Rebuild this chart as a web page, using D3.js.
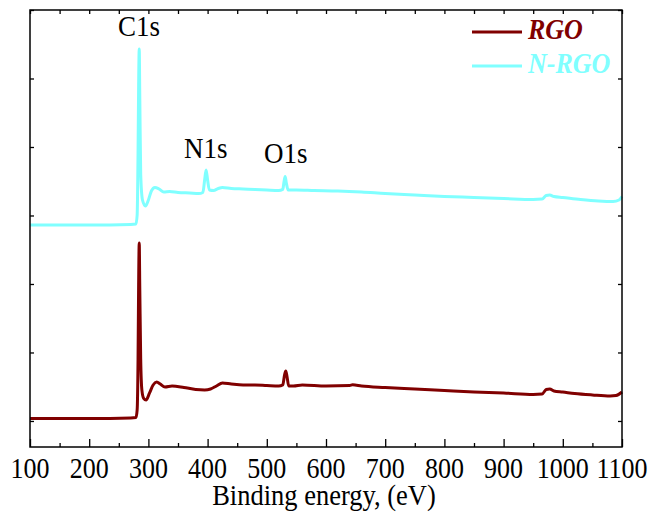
<!DOCTYPE html>
<html>
<head>
<meta charset="utf-8">
<script src="https://cdn.jsdelivr.net/npm/d3@7"></script>
</head>
<body style="margin:0">
<script>
var svgWidth = 654
var svgHeight = 515

// binding energy (eV) and intensity (a.u.)
var rgoEnergy = [100, 200, 270, 279, 281, 282.5, 283.5, 284.5, 285.5, 287, 289, 292, 296, 302, 308, 314, 320, 328, 340, 360, 380, 395, 405, 415, 425, 440, 460, 480, 500, 520, 527, 530, 532, 534, 537, 545, 560, 600, 640, 645, 660, 700, 750, 800, 850, 900, 950, 965, 972, 978, 985, 1000, 1020, 1050, 1080, 1090, 1100]
var rgoIntensity = [0.036, 0.036, 0.044, 0.051, 0.161, 0.9, 2.0, 2.599, 1.9, 0.9, 0.45, 0.33, 0.307, 0.409, 0.526, 0.569, 0.540, 0.496, 0.511, 0.489, 0.460, 0.453, 0.467, 0.511, 0.555, 0.540, 0.526, 0.526, 0.518, 0.511, 0.526, 0.672, 0.730, 0.657, 0.511, 0.511, 0.526, 0.511, 0.518, 0.528, 0.511, 0.489, 0.467, 0.445, 0.423, 0.409, 0.387, 0.394, 0.460, 0.467, 0.438, 0.423, 0.401, 0.380, 0.365, 0.372, 0.423]

var nrgoEnergy = [100, 200, 270, 279, 281, 282.5, 283.5, 284.5, 285.5, 287, 290, 295, 300, 305, 311, 318, 326, 336, 350, 370, 385, 392, 395, 397.5, 400, 403, 410, 418, 425, 440, 460, 480, 500, 520, 527, 529, 531, 533, 536, 550, 580, 620, 660, 700, 750, 800, 850, 900, 950, 965, 972, 978, 985, 1000, 1030, 1060, 1085, 1095, 1100]
var nrgoIntensity = [2.861, 2.861, 2.869, 2.876, 3.007, 3.9, 4.9, 5.431, 4.7, 3.6, 3.226, 3.139, 3.226, 3.358, 3.409, 3.387, 3.343, 3.350, 3.336, 3.328, 3.321, 3.336, 3.518, 3.664, 3.518, 3.372, 3.365, 3.394, 3.409, 3.394, 3.387, 3.380, 3.372, 3.365, 3.380, 3.489, 3.569, 3.474, 3.372, 3.372, 3.365, 3.358, 3.343, 3.321, 3.299, 3.277, 3.263, 3.248, 3.234, 3.241, 3.292, 3.299, 3.277, 3.263, 3.234, 3.212, 3.204, 3.226, 3.277]

var majorTicks = [100, 200, 300, 400, 500, 600, 700, 800, 900, 1000, 1100]
var minorTicks = [150, 250, 350, 450, 550, 650, 750, 850, 950, 1050]
var yTicks = [0, 1, 2, 3, 4, 5, 6]

var peakLabels = [
  { name: 'C1s', energy: 284, level: 5.62 },
  { name: 'N1s', energy: 397, level: 3.84 },
  { name: 'O1s', energy: 532, level: 3.77 }
]
var seriesNames = ['RGO', 'N-RGO']
var seriesColors = ['#800000', '#80ffff']

var fontName = "'Liberation Serif'"
var stretch = ' scale(1,1.1)'

var margin = { left: 30, top: 10, right: 32, bottom: 68 }
var plotW = svgWidth - margin.left - margin.right
var plotH = svgHeight - margin.top - margin.bottom

var svg = d3.select('body').append('svg')
  .attr('width', svgWidth)
  .attr('height', svgHeight)

var g = svg.append('g')
  .attr('transform', 'translate(' + margin.left + ',' + margin.top + ')')

var x = d3.scaleLinear().domain([100, 1100]).range([0, plotW])
var y = d3.scaleLinear().domain([-0.38, 6]).range([plotH, 0])

// spectra
var line = d3.line()
  .x(d => x(d[0]))
  .y(d => y(d[1]))
  .curve(d3.curveMonotoneX)

var series = [
  d3.zip(rgoEnergy, rgoIntensity),
  d3.zip(nrgoEnergy, nrgoIntensity)
]

g.selectAll('path.spec')
  .data(series)
  .enter()
  .append('path')
  .attr('class', 'spec')
  .attr('d', line)
  .attr('fill', 'none')
  .attr('stroke', (d, i) => seriesColors[i])
  .attr('stroke-width', 3)
  .attr('stroke-linejoin', 'round')

// axes, ticks pointing inward
g.append('g')
  .attr('transform', 'translate(0,' + plotH + ')')
  .call(d3.axisBottom(x).tickValues(minorTicks).tickSize(-4).tickFormat(''))

g.append('g')
  .call(d3.axisTop(x).tickValues(majorTicks.concat(minorTicks)).tickSize(-4).tickFormat(''))

g.append('g')
  .call(d3.axisLeft(y).tickValues(yTicks).tickSize(-4).tickFormat(''))

g.append('g')
  .attr('transform', 'translate(' + plotW + ',0)')
  .call(d3.axisRight(y).tickValues(yTicks).tickSize(-4).tickFormat(''))

g.append('g')
  .attr('transform', 'translate(0,' + plotH + ')')
  .call(d3.axisBottom(x).tickValues(majorTicks).tickSize(-8).tickFormat(''))

g.selectAll('.domain').remove()
g.selectAll('.tick line').attr('stroke', '#000').attr('stroke-width', 1.3)

g.append('rect')
  .attr('x', 0).attr('y', 0)
  .attr('width', plotW).attr('height', plotH)
  .attr('fill', 'none')
  .attr('stroke', '#000')
  .attr('stroke-width', 1.5)

// tick labels
g.selectAll('text.tickLabel')
  .data(majorTicks)
  .enter()
  .append('text')
  .attr('class', 'tickLabel')
  .attr('transform', d => 'translate(' + x(d) + ',' + (plotH + 31) + ')' + stretch)
  .attr('text-anchor', 'middle')
  .attr('font-size', 26)
  .style('font-family', fontName)
  .text(d => d)

// axis title
svg.append('text')
  .attr('transform', 'translate(' + (margin.left + 294) + ',505)' + stretch)
  .attr('text-anchor', 'middle')
  .attr('font-size', 26.5)
  .style('font-family', fontName)
  .text('Binding energy, (eV)')

// peak labels
g.selectAll('text.peak')
  .data(peakLabels)
  .enter()
  .append('text')
  .attr('class', 'peak')
  .attr('transform', d => 'translate(' + x(d.energy) + ',' + y(d.level) + ')' + stretch)
  .attr('text-anchor', 'middle')
  .attr('font-size', 27)
  .style('font-family', fontName)
  .text(d => d.name)

// legend
var legendRows = svg.append('g').selectAll('g')
  .data(seriesNames)
  .enter()
  .append('g')
  .attr('transform', (d, i) => 'translate(472,' + (32 + i * 34) + ')')

legendRows.append('line')
  .attr('x1', 0).attr('x2', 50)
  .attr('stroke', (d, i) => seriesColors[i])
  .attr('stroke-width', 3)

legendRows.append('text')
  .attr('transform', 'translate(56,7)' + stretch)
  .attr('font-size', 26)
  .attr('font-weight', 'bold')
  .attr('font-style', 'italic')
  .style('font-family', fontName)
  .attr('fill', (d, i) => seriesColors[i])
  .text(d => d)
</script>
</body>
</html>
